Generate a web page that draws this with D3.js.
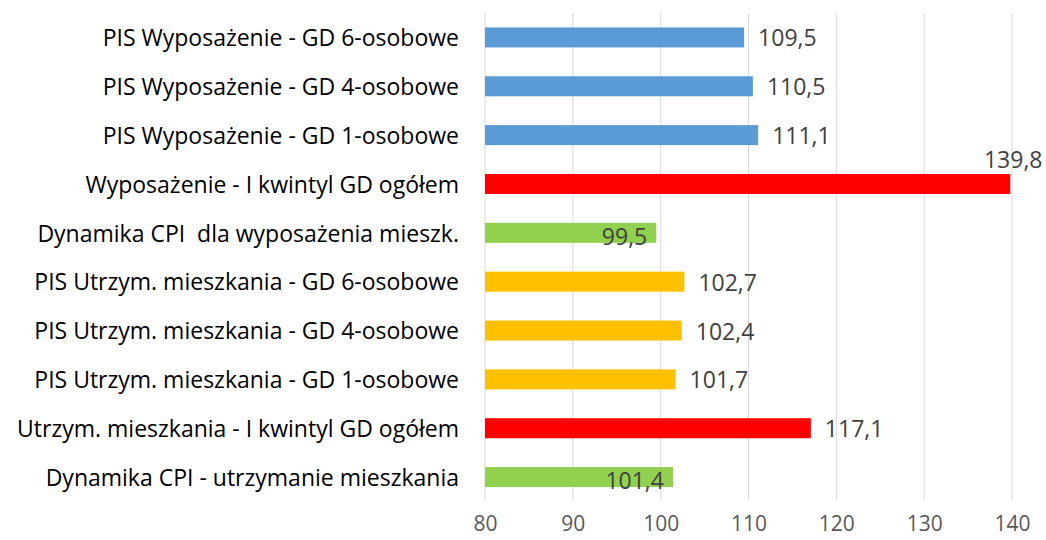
<!DOCTYPE html>
<html>
<head>
<meta charset="utf-8">
<script src="https://cdn.jsdelivr.net/npm/d3@7"></script>
<style>
  html, body { margin: 0; padding: 0; background: #fff; }
  svg text { font-family: 'Open Sans', 'Liberation Sans', sans-serif; }
</style>
</head>
<body>
<svg id="chart"></svg>
<script>
const categories = [
  'PIS Wyposażenie - GD 6-osobowe',
  'PIS Wyposażenie - GD 4-osobowe',
  'PIS Wyposażenie - GD 1-osobowe',
  'Wyposażenie - I kwintyl GD ogółem',
  'Dynamika CPI  dla wyposażenia mieszk.',
  'PIS Utrzym. mieszkania - GD 6-osobowe',
  'PIS Utrzym. mieszkania - GD 4-osobowe',
  'PIS Utrzym. mieszkania - GD 1-osobowe',
  'Utrzym. mieszkania - I kwintyl GD ogółem',
  'Dynamika CPI - utrzymanie mieszkania'
]
const values = [109.5, 110.5, 111.1, 139.8, 99.5, 102.7, 102.4, 101.7, 117.1, 101.4]
const groups = ['pis', 'pis', 'pis', 'kwintyl', 'cpi', 'utrzym', 'utrzym', 'utrzym', 'kwintyl', 'cpi']
const xTicks = [80, 90, 100, 110, 120, 130, 140]

const GROUP_COLORS = { pis: '#5B9BD5', kwintyl: '#FF0000', cpi: '#92D050', utrzym: '#FFC000' }

const width = 1046
const height = 540
const margin = { top: 13, right: 34, bottom: 40, left: 485 }

const svg = d3.select('#chart')
  .attr('width', width)
  .attr('height', height)

const x = d3.scaleLinear()
  .domain([80, 140])
  .range([margin.left, width - margin.right])

const y = d3.scaleBand()
  .domain(categories)
  .range([margin.top, height - margin.bottom + 1.5])
  .paddingInner(0.59)
  .paddingOuter(0.295)

const fmt = v => d3.format('.1f')(v).replace('.', ',')

// grid
svg.append('g')
  .selectAll('line')
  .data(xTicks)
  .enter()
  .append('line')
  .attr('x1', d => x(d))
  .attr('x2', d => x(d))
  .attr('y1', margin.top)
  .attr('y2', height - margin.bottom)
  .attr('stroke', '#d9d9d9')
  .attr('stroke-width', 1)

// x axis labels
const xAxis = svg.append('g')
  .attr('transform', `translate(0,${height - margin.bottom})`)
  .call(d3.axisBottom(x).tickValues(xTicks).tickSize(0).tickPadding(16))
xAxis.select('.domain').remove()
xAxis.selectAll('text')
  .attr('font-size', '21px')
  .attr('fill', '#595959')
  .style('font-family', "'Open Sans', sans-serif")

// category labels
const yAxis = svg.append('g')
  .attr('transform', `translate(${margin.left - 26},0)`)
  .call(d3.axisLeft(y).tickSize(0).tickPadding(0))
yAxis.select('.domain').remove()
yAxis.selectAll('text')
  .attr('font-size', '23px')
  .attr('fill', '#000')
  .style('font-family', "'Open Sans', sans-serif")
  .style('white-space', 'pre')
  .attr('dy', '0.38em')

const rows = categories.map((c, i) => ({ cat: c, value: values[i], group: groups[i] }))

svg.append('g')
  .selectAll('rect')
  .data(rows)
  .enter()
  .append('rect')
  .attr('x', x(80))
  .attr('y', d => y(d.cat))
  .attr('width', d => x(d.value) - x(80))
  .attr('height', y.bandwidth())
  .attr('fill', d => GROUP_COLORS[d.group])

// value labels
svg.append('g')
  .selectAll('text')
  .data(rows)
  .enter()
  .append('text')
  .attr('font-size', '23px')
  .attr('fill', '#404040')
  .style('font-family', "'Open Sans', sans-serif")
  .each(function (d) {
    const t = d3.select(this).text(fmt(d.value))
    const cy = y(d.cat) + y.bandwidth() / 2
    if (d.group === 'cpi') {
      t.attr('x', x(d.value) - 9).attr('y', cy + 12).attr('text-anchor', 'end')
    } else if (d.value > 130) {
      t.attr('x', x(d.value) + 3).attr('y', y(d.cat) - 6).attr('text-anchor', 'middle')
    } else {
      t.attr('x', x(d.value) + 14).attr('y', cy + 9).attr('text-anchor', 'start')
    }
  })
</script>
</body>
</html>
